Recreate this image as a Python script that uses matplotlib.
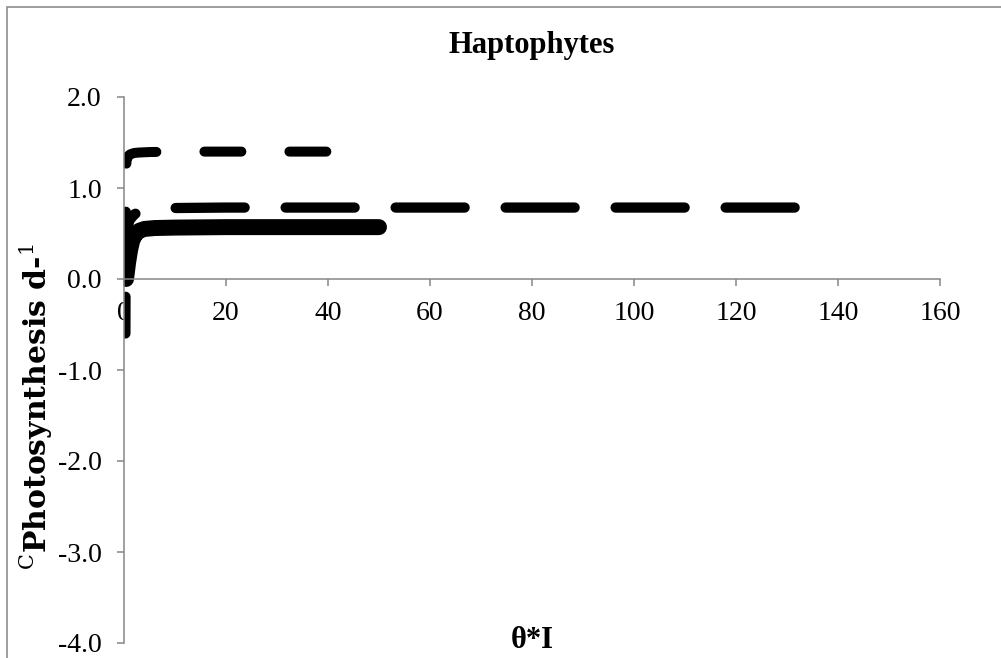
import numpy as np
import matplotlib
matplotlib.use("Agg")
from matplotlib import pyplot as plt
from matplotlib.patches import Rectangle

plt.rcParams['font.family'] = ['Liberation Serif', 'DejaVu Serif']
plt.rcParams['mathtext.fontset'] = 'custom'
plt.rcParams['mathtext.rm'] = 'DejaVu Serif'
plt.rcParams['mathtext.bf'] = 'DejaVu Serif:bold'
plt.rcParams['lines.scale_dashes'] = False

# Photosynthesis curves vs theta*I
x_upper = [0.3, 0.35, 0.4, 0.5, 0.8, 1.2, 2, 3, 5, 10, 20, 30, 40]
y_upper = [-0.6, 0.5, 1.2, 1.3, 1.35, 1.37, 1.385, 1.39, 1.395, 1.4, 1.4, 1.4, 1.4]

x_mid = [0.3, 0.5, 1.0, 2.0, 3.0, 5.0, 10, 20, 40, 60, 80, 100, 120, 131.5]
y_mid = [0.05, 0.45, 0.64, 0.71, 0.74, 0.765, 0.78, 0.785, 0.785, 0.785, 0.785, 0.785, 0.785, 0.785]

x_solid = [0.4, 0.8, 1.2, 1.6, 2.2, 3.0, 4.0, 6.0, 10, 20, 30, 40, 50]
y_solid = [0.0, 0.18, 0.32, 0.42, 0.49, 0.53, 0.55, 0.56, 0.565, 0.57, 0.57, 0.57, 0.57]

x_ticks = [0, 20, 40, 60, 80, 100, 120, 140, 160]
y_ticks = [-4.0, -3.0, -2.0, -1.0, 0.0, 1.0, 2.0]

fig = plt.figure(figsize=(10.01, 6.58), dpi=100)
ax = fig.add_axes([124/1001, 1 - 643/658, 816/1001, 546/658])

ax.plot(x_upper, y_upper, color='black', lw=7.2, solid_capstyle='round',
        dash_capstyle='round', linestyle=(0, (26.6, 34.6)))
ax.plot(x_mid, y_mid, color='black', lw=7.4, dash_capstyle='round',
        linestyle=(4.0, (49.7, 29.5)))
ax.plot(x_solid, y_solid, color='black', lw=11.5, solid_capstyle='round')

ax.set_xlim(0, 160)
ax.set_ylim(-4, 2)
ax.set_xticks(x_ticks)
ax.set_yticks(y_ticks)
ax.set_yticklabels(['%.1f' % v for v in y_ticks])

gray = '#868686'
for s in ['top', 'right']:
    ax.spines[s].set_visible(False)
ax.spines['bottom'].set_position(('data', 0))
for s in ['left', 'bottom']:
    ax.spines[s].set_color(gray)
    ax.spines[s].set_linewidth(1.1)
ax.tick_params(axis='both', colors=gray, length=5, width=1.1, labelsize=20,
               labelcolor='black')
ax.tick_params(axis='x', pad=11)
ax.tick_params(axis='y', pad=11)

fig.text(532/1001, 1 - 45/658, 'Haptophytes', ha='center', va='center',
         fontsize=22, fontweight='bold')
fig.text(532/1001, 1 - 640/658, 'θ*I', ha='center', va='center',
         fontsize=22, fontweight='bold')
# wide serif for the rotated label
fig.text(36/1001, 1 - 407/658, r'$^{\mathrm{C}}$Photosynthesis d-$^{1}$',
         ha='center', va='center', rotation=90, fontsize=21.5,
         fontweight='bold', family='DejaVu Serif')

# outer frame
fig.patches.append(Rectangle((7/1001, -0.1), 1.2, 1.1 - 7/658,
                             transform=fig.transFigure, fill=False,
                             edgecolor='#8c8c8c', lw=1.2))

fig.savefig('out.png', dpi=100)
